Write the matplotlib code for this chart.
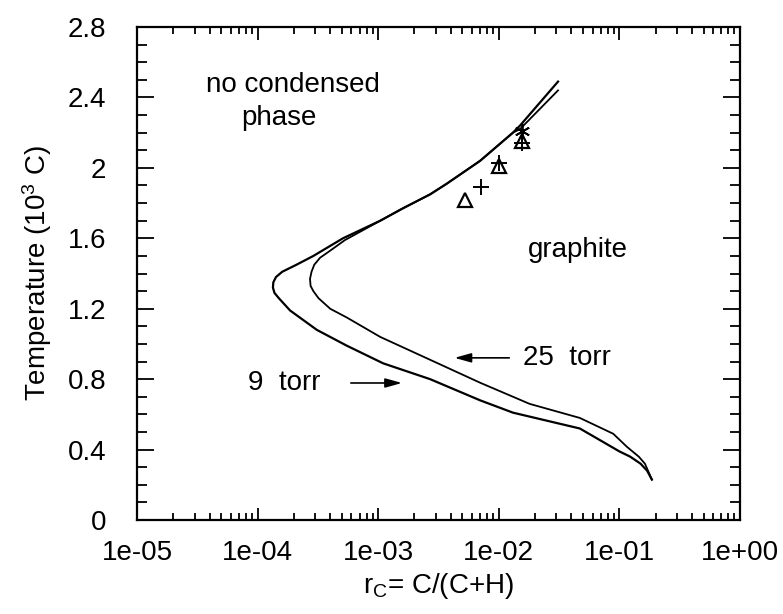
import numpy as np
import matplotlib
matplotlib.use("Agg")
import matplotlib.pyplot as plt
from matplotlib.ticker import LogLocator, FixedLocator, MultipleLocator

plt.rcParams['font.family'] = ['Liberation Sans', 'DejaVu Sans']
plt.rcParams['mathtext.fontset'] = 'custom'
plt.rcParams['mathtext.rm'] = 'Liberation Sans'
plt.rcParams['mathtext.it'] = 'Liberation Sans'

# phase boundary, 9 torr (r_C, T in 10^3 C)
r_9torr = [3.1e-2, 1.5e-2, 1.31e-2, 7.0e-3, 3.7e-3, 2.7e-3, 1.6e-3, 1.04e-3,
           5.1e-4, 2.9e-4, 2.1e-4, 1.6e-4, 1.42e-4, 1.35e-4, 1.34e-4, 1.38e-4,
           1.5e-4, 1.86e-4, 3.1e-4, 5.5e-4, 1.1e-3, 2.7e-3, 7.0e-3, 1.31e-2,
           4.7e-2, 6.9e-2, 1.0e-1, 1.23e-1, 1.50e-1, 1.70e-1, 1.86e-1]
T_9torr = [2.49, 2.24, 2.20, 2.04, 1.91, 1.85, 1.77, 1.70,
           1.60, 1.50, 1.45, 1.41, 1.38, 1.35, 1.32, 1.29,
           1.26, 1.19, 1.08, 0.99, 0.89, 0.80, 0.68, 0.61,
           0.52, 0.454, 0.39, 0.36, 0.32, 0.28, 0.23]

# phase boundary, 25 torr
r_25torr = [3.1e-2, 1.5e-2, 1.31e-2, 7.0e-3, 3.7e-3, 2.7e-3, 1.6e-3, 1.04e-3,
            5.3e-4, 4.0e-4, 3.3e-4, 2.95e-4, 2.8e-4, 2.72e-4, 2.75e-4, 2.9e-4,
            3.2e-4, 4.0e-4, 5.5e-4, 1.04e-3, 2.7e-3, 7.0e-3, 1.8e-2, 4.7e-2,
            8.9e-2, 1.16e-1, 1.45e-1, 1.63e-1, 1.86e-1]
T_25torr = [2.44, 2.22, 2.20, 2.04, 1.91, 1.85, 1.77, 1.70,
            1.59, 1.53, 1.49, 1.45, 1.41, 1.37, 1.33, 1.30,
            1.26, 1.20, 1.15, 1.04, 0.91, 0.78, 0.66, 0.58,
            0.49, 0.415, 0.36, 0.32, 0.23]

# experimental points
r_tri = [5.25e-3, 1.0e-2, 1.55e-2]
T_tri = [1.82, 2.01, 2.15]
r_plus = [7.1e-3, 1.0e-2, 1.56e-2]
T_plus = [1.89, 2.03, 2.14]
r_star = [1.55e-2]
T_star = [2.21]

x_ticks = [1e-5, 1e-4, 1e-3, 1e-2, 1e-1, 1]
x_ticklabels = ['1e-05', '1e-04', '1e-03', '1e-02', '1e-01', '1e+00']
y_ticks = [0, 0.4, 0.8, 1.2, 1.6, 2.0, 2.4, 2.8]
y_ticklabels = ['0', '0.4', '0.8', '1.2', '1.6', '2', '2.4', '2.8']

fig = plt.figure(figsize=(7.83, 6.14), dpi=100)
ax = fig.add_axes([0.175, 0.153, 0.770, 0.803])

ax.plot(r_9torr, T_9torr, color='black', lw=1.6)
ax.plot(r_25torr, T_25torr, color='black', lw=1.3)
ax.plot(r_tri, T_tri, ls='none', marker='^', ms=10, mfc='none', mec='black', mew=1.6)
ax.plot(r_plus, T_plus, ls='none', marker='+', ms=11, mec='black', mew=1.4)
ax.plot(r_star, T_star, ls='none', marker=(6, 2, 0), ms=11, mec='black', mew=1.3)

ax.set_xscale('log')
ax.set_xlim(1e-5, 1)
ax.set_ylim(0, 2.8)
ax.xaxis.set_major_locator(FixedLocator(x_ticks))
ax.xaxis.set_minor_locator(LogLocator(base=10, subs=np.arange(2, 10), numticks=20))
ax.set_xticklabels(x_ticklabels)
ax.yaxis.set_major_locator(FixedLocator(y_ticks))
ax.yaxis.set_minor_locator(MultipleLocator(0.1))
ax.set_yticklabels(y_ticklabels)

ax.tick_params(which='both', direction='in', top=True, right=True, width=1.3)
ax.tick_params(axis='x', which='major', length=9, pad=14, labelsize=20)
ax.tick_params(axis='x', which='minor', length=5)
ax.tick_params(axis='y', which='major', length=12, pad=22, labelsize=20)
ax.tick_params(axis='y', which='minor', length=7)
for s in ax.spines.values():
    s.set_linewidth(1.6)

ax.set_xlabel(r'r$_\mathrm{C}$= C/(C+H)', fontsize=20, labelpad=4)
ax.set_ylabel(r'Temperature (10$^3$ C)', fontsize=20, labelpad=10)

ax.text(0.259, 0.882, 'no condensed', transform=ax.transAxes, fontsize=20,
        ha='center', va='center')
ax.text(0.235, 0.815, 'phase', transform=ax.transAxes, fontsize=20,
        ha='center', va='center')
ax.text(0.731, 0.548, 'graphite', transform=ax.transAxes, fontsize=20,
        ha='center', va='center')
ax.text(0.640, 0.329, '25  torr', transform=ax.transAxes, fontsize=20,
        ha='left', va='center')
ax.text(0.184, 0.278, '9  torr', transform=ax.transAxes, fontsize=20,
        ha='left', va='center')

arrow = dict(arrowstyle='-|>,head_length=1.0,head_width=0.28', color='black', lw=1.2)
ax.annotate('', xy=(0.522, 0.329), xytext=(0.622, 0.329), xycoords='axes fraction',
            textcoords='axes fraction', arrowprops=arrow)
ax.annotate('', xy=(0.444, 0.278), xytext=(0.350, 0.278), xycoords='axes fraction',
            textcoords='axes fraction', arrowprops=arrow)

fig.savefig('out.png', dpi=100)
